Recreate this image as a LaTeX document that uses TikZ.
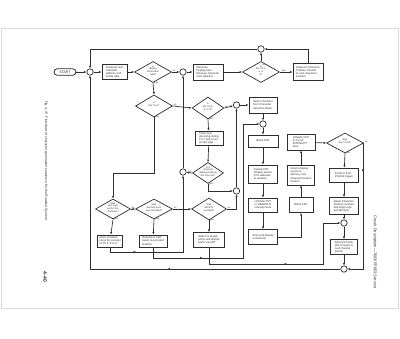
\documentclass[tikz,border=0pt]{standalone}
\usepackage{fontspec}
\setmainfont{Liberation Sans}
\usetikzlibrary{shapes.geometric,arrows.meta,decorations.markings}
\definecolor{ink}{gray}{0.18}
\definecolor{pageedge}{gray}{0.85}
\newcommand\tf{\fontsize{2.75}{3.1}\selectfont}
\newcommand\df{\fontsize{2.4}{2.75}\selectfont}
\newcommand\lf{\fontsize{2.4}{2.6}\selectfont}
\newcommand\dt[1]{\smash{\makebox[0pt]{\begin{tabular}{@{}c@{}}#1\end{tabular}}}}
\tikzset{
  box/.style={draw=ink, line width=0.8pt, rectangle, inner sep=0.5pt, font=\tf, text=ink, align=left},
  cbox/.style={box, align=center},
  dia/.style={draw=ink, line width=0.7pt, diamond, inner sep=0pt, font=\df, text=ink},
  jn/.style={draw=ink, line width=0.7pt, circle, fill=white, minimum size=6.4pt, inner sep=0pt},
  arr/.style={draw=ink, line width=0.65pt, -{Latex[length=2.6pt,width=2.2pt]}},
  lab/.style={font=\lf, inner sep=0.3pt, text=ink},
  midarr/.style={postaction={decorate}, decoration={markings, mark=at position #1 with {\arrow{Latex[length=2.6pt,width=2.2pt]}}}},
}
\begin{document}
\begin{tikzpicture}[x=1pt,y=-1pt]
\useasboundingbox (0,0) rectangle (400,339);
\fill[white] (0,0) rectangle (400,339);
\draw[pageedge, line width=0.9pt] (1.5,28) rectangle (398.8,308);

% captions
\node[rotate=-90, font=\fontsize{3.4}{4}\selectfont, text=ink] (cap) at (46,161) {Fig. 4-27. Flowchart of character generation sequence for the Readout System.};
\node[rotate=-90, font=\fontsize{5}{6}\selectfont\bfseries, text=ink] (pg) at (45,277) {4-40};
\node[rotate=-90, font=\fontsize{4}{4.5}\selectfont, text=ink] (side) at (375,252) {Circuit Description—7603/R7603 Service};

% row 1
\node[draw=ink, line width=0.8pt, rounded corners=3.3pt, minimum width=22pt, minimum height=6.6pt, inner sep=0pt, font=\fontsize{3.5}{4}\selectfont, text=ink] (start) at (65,72) {START};
\node[jn] (c1) at (90,72) {};
\node[box, minimum width=25pt, minimum height=15pt] (b1) at (114.5,72) {Compute next\\character\\address and\\timing data};
\node[dia, minimum width=37pt, minimum height=21pt] (d1) at (153,72) {\dt{Is\\display\\information\\valid?}};
\node[jn] (c2) at (183,72) {};
\node[box, minimum width=30pt, minimum height=16pt] (b2) at (208,72) {Eliminate\\Display time\\between character\\slots (blanks)};
\node[dia, minimum width=37pt, minimum height=21pt] (d2) at (261,72) {\dt{Is\\this TS 1,\\2, or\\3?}};
\node[jn] (c3) at (261,49) {};
\node[box, minimum width=30pt, minimum height=17pt] (b3) at (308,72) {Advance Character\\Position Counter\\to next character\\position};

% row 2
\node[dia, minimum width=37pt, minimum height=22pt] (d3) at (154,106) {\dt{Is\\this TS 4?}};
\node[dia, minimum width=32pt, minimum height=22pt] (d4) at (208,108) {\dt{Is\\this TS 6,\\8, or 9?}};
\node[jn] (c4) at (236.5,105) {};
\node[box, minimum width=28pt, minimum height=16pt] (b4) at (263,105) {Select character\\from Character\\Selection Matrix};
\node[jn] (c5) at (263,124) {};
\node[box, minimum width=28pt, minimum height=14pt] (b5) at (209,138) {Clock zero\\decoding during\\TS 7 and count\\to next digit};
\node[dia, minimum width=31pt, minimum height=21pt] (d5) at (208,173) {\dt{Is a\\character\\displayed during\\this time slot?}};
\node[jn] (c6) at (183,172) {};
\node[jn] (c7) at (236.5,191) {};

% rows 3 and 4
\coordinate (j1) at (113,173);
\node[dia, minimum width=35pt, minimum height=20pt] (dL) at (113,209) {\dt{Was\\zero logic\\set for this\\character?}};
\node[dia, minimum width=37pt, minimum height=20pt] (dM) at (154,209) {\dt{Was\\decimal point\\ever encoded?}};
\node[dia, minimum width=35pt, minimum height=22pt] (dS) at (209,209) {\dt{Was\\SAFETY\\encoded?}};
\node[box, minimum width=25pt, minimum height=12pt] (bL) at (110,241) {Store encoded\\zeros for concept\\of TS 6, 8 or 9};
\node[box, minimum width=28pt, minimum height=12pt] (bM) at (153,241) {Reposition CRT\\beam to encoded\\location};
\node[box, minimum width=31pt, minimum height=15pt] (bS) at (209,240) {Switch to proper\\prefix and display\\prefix via CRT};

% column A
\node[cbox, minimum width=30pt, minimum height=12pt] (bA1) at (263,141) {Blank CRT};
\node[box, minimum width=29pt, minimum height=18pt] (bA2) at (263,174) {Sweep CRT\\Display source\\from data bus\\to readout};
\node[box, minimum width=29pt, minimum height=14pt] (bA3) at (263,205) {Unblank CRT\\to READOUT\\intensity level};
\node[box, minimum width=29pt, minimum height=15pt] (bA4) at (263,237) {Scan and display\\a character};

% column B
\node[box, minimum width=28pt, minimum height=16pt] (bB1) at (301,142) {Unblank CRT\\to A or B\\INTENSITY\\level};
\node[box, minimum width=27pt, minimum height=20pt] (bB2) at (301,175) {Return display\\source to\\Memory and\\Channel Position\\Control};
\node[cbox, minimum width=24pt, minimum height=15pt] (bB3) at (301,205) {Blank CRT};

% column C
\node[dia, minimum width=37pt, minimum height=20pt] (dT) at (345,143) {\dt{Was\\this TS 10?}};
\node[box, minimum width=29pt, minimum height=14pt] (bP) at (344,175) {Produce End\\of Word trigger};
\node[box, minimum width=29pt, minimum height=17pt] (bR) at (344,206) {Reset Character\\Position Counter\\and Digit Logic\\and Memory};
\node[jn] (c8) at (344,223) {};
\node[box, minimum width=27pt, minimum height=15pt] (bAd) at (344,247) {Advance Clock\\with Counter to\\next channel\\(word)};
\node[jn] (c9) at (344,269) {};

\coordinate (j2) at (363,269);
\coordinate (j3) at (183,252);
\coordinate (j4) at (243,258);
\coordinate (j5) at (323,264);

% connectors row 1
\draw[arr] (start) -- (c1);
\draw[arr] (c1) -- (b1);
\draw[arr] (b1) -- (d1);
\draw[arr] (d1.east) -- (c2);
\draw[arr] (c2) -- (b2);
\draw[arr] (b2) -- (d2.west);
\draw[arr] (d2.east) -- (b3);
\draw[arr] (d2.north) -- (c3);
\draw[arr] (b3.north) |- (c3);
\draw[arr] (c3) -| (c1);

% row 2
\draw[arr] (d1.south) -- (d3.north);
\draw[arr] (d3.east) -- (d4.west);
\draw[arr] (d3.south) |- (j1) -- (dL.north);
\draw[arr] (d4.east) -- (c4);
\draw[arr] (c4) -- (b4);
\draw[arr] (b4) -- (c5);
\draw[arr] (c5) -- (bA1);
\draw[arr] (d4.south) -- (b5);
\draw[arr] (b5) -- (d5.north);
\draw[arr] (d5.west) -- (c6);
\draw[arr] (d5.south) |- (c7);
\draw[arr] (c7) -- (c4);
\draw[arr] (c6) -- (c2);

% row 3
\draw[arr] (dL.east) -- (dM.west);
\draw[arr] (dM.east) -- (dS.west);
\draw[arr] (dL.south) -- (bL);
\draw[arr] (dM.south) -- (bM);
\draw[arr] (dS.south) -- (bS);
\draw[arr] (dS.east) -| (c7);
\draw[arr, midarr=0.2] (bL.south) |- (j3) -- (c6);
\draw[arr, midarr=0.24] (bM.south) |- (j4) |- (c5);
\draw[arr, midarr=0.5] (bS.south) |- (j5) |- (c8);

% columns A, B
\draw[arr] (bA1) -- (bA2);
\draw[arr] (bA2) -- (bA3);
\draw[arr] (bA3) -- (bA4);
\draw[arr] (bA4.east) -| (bB3.south);
\draw[arr] (bB3) -- (bB2);
\draw[arr] (bB2) -- (bB1);
\draw[arr] (bB1) -- (dT.west);

% column C
\draw[arr] (dT.south) -- (bP);
\draw[arr] (bP) -- (bR);
\draw[arr] (bR) -- (c8);
\draw[arr] (c8) -- (bAd);
\draw[arr] (bAd) -- (c9);
\draw[arr, midarr=0.21] (dT.east) -| (j2) -- (c9);
\draw[arr, midarr=0.39] (c9) -| (c1);

% yes / no labels
\node[lab, anchor=south west] (l1) at ([xshift=0.5pt,yshift=-0.3pt]d1.east) {no};
\node[lab, anchor=north west] (l2) at ([xshift=0.8pt,yshift=1.5pt]d1.south) {yes};
\node[lab, anchor=west] (l3) at ([xshift=0.8pt,yshift=-4pt]d2.north) {no};
\node[lab, anchor=south west] (l4) at ([xshift=1.5pt,yshift=-0.3pt]d2.east) {yes};
\node[lab, anchor=south west] (l5) at ([xshift=0.5pt,yshift=-0.3pt]d3.east) {no};
\node[lab, anchor=north west] (l6) at ([xshift=0.8pt,yshift=1.5pt]d3.south) {yes};
\node[lab, anchor=south west] (l7) at ([xshift=0.5pt,yshift=-0.3pt]d4.east) {no};
\node[lab, anchor=north west] (l8) at ([xshift=0.8pt,yshift=1.5pt]d4.south) {yes};
\node[lab, anchor=south east] (l9) at ([xshift=-0.5pt,yshift=-0.3pt]d5.west) {no};
\node[lab, anchor=north west] (l10) at ([xshift=0.8pt,yshift=1.5pt]d5.south) {yes};
\node[lab, anchor=south west] (l11) at ([xshift=0.5pt,yshift=-0.3pt]dL.east) {no};
\node[lab, anchor=north west] (l12) at ([xshift=0.8pt,yshift=1.5pt]dL.south) {yes};
\node[lab, anchor=south west] (l13) at ([xshift=0.5pt,yshift=-0.3pt]dM.east) {no};
\node[lab, anchor=north west] (l14) at ([xshift=0.8pt,yshift=1.5pt]dM.south) {yes};
\node[lab, anchor=south west] (l15) at ([xshift=0.5pt,yshift=-0.3pt]dS.east) {no};
\node[lab, anchor=north west] (l16) at ([xshift=0.8pt,yshift=1.5pt]dS.south) {yes};
\node[lab, anchor=south west] (l17) at ([xshift=0.5pt,yshift=-0.3pt]dT.east) {no};
\node[lab, anchor=north west] (l18) at ([xshift=0.8pt,yshift=1.5pt]dT.south) {yes};
\end{tikzpicture}
\end{document}
